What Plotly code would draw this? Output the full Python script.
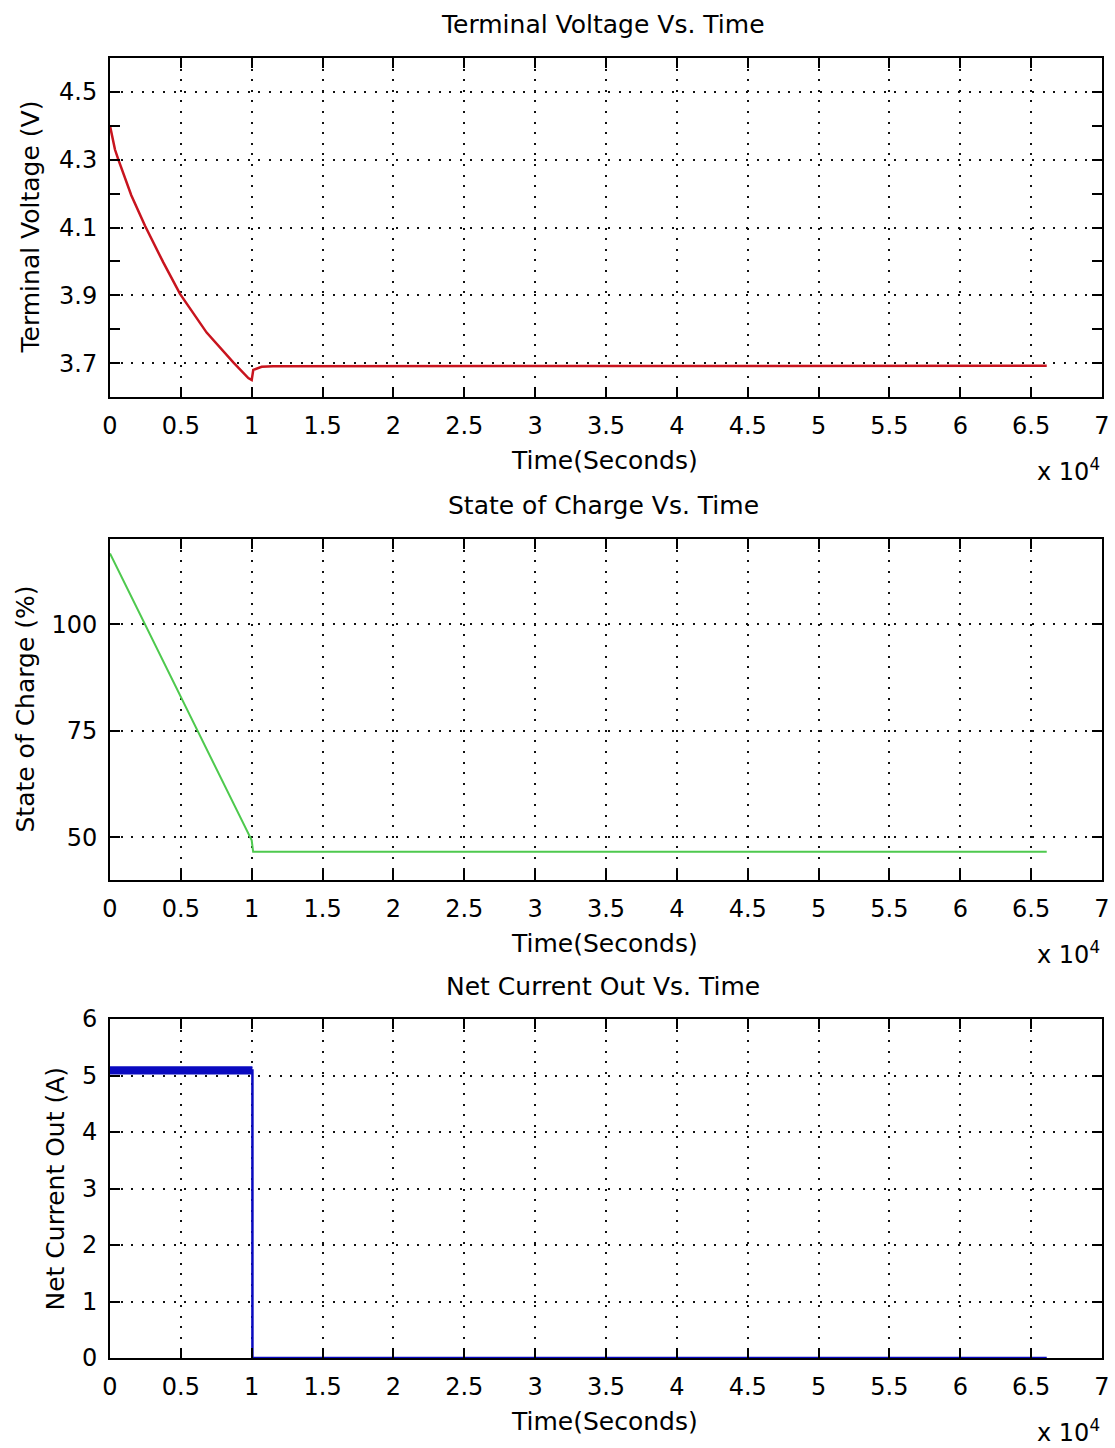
import plotly.graph_objects as go

# ---- data -------------------------------------------------------------
# terminal voltage (V) vs time (s)
volt_t = [0, 150, 350, 590, 1000, 1500, 2470, 3760, 4940, 6820, 8700,
          9760, 10000, 10110, 10700, 11500, 66100]
volt_v = [4.400, 4.370, 4.330, 4.300, 4.250, 4.195, 4.105, 3.997, 3.904,
          3.790, 3.702, 3.656, 3.650, 3.680, 3.689, 3.691, 3.692]

# state of charge (%) vs time (s)
soc_t = [0, 10000, 10100, 66100]
soc_v = [116.6, 49.3, 46.6, 46.6]

# net current out (A) vs time (s)
cur_t = [0, 10050, 10050, 66100]
cur_v = [5.09, 5.09, 0.0, 0.0]
# ripple envelope of the current while discharging
ripple_t = [0, 10050]
ripple_lo = [5.03, 5.03]
ripple_hi = [5.15, 5.15]

# axis ticks
x_ticks = [0, 5000, 10000, 15000, 20000, 25000, 30000, 35000, 40000,
           45000, 50000, 55000, 60000, 65000, 70000]
x_tick_text = ["0", "0.5", "1", "1.5", "2", "2.5", "3", "3.5", "4",
               "4.5", "5", "5.5", "6", "6.5", "7"]
volt_ticks = [3.7, 3.9, 4.1, 4.3, 4.5]
volt_minor = [3.8, 4.0, 4.2, 4.4]
soc_ticks = [50, 75, 100]
cur_ticks = [0, 1, 2, 3, 4, 5, 6]

titles = ["Terminal Voltage Vs. Time", "State of Charge Vs. Time",
          "Net Current Out Vs. Time"]
y_titles = ["Terminal Voltage (V)", "State of Charge (%)", "Net Current Out (A)"]

# ---- layout geometry (pixels) ----------------------------------------
W, H = 1115, 1448
X0, X1 = 110, 1102
panels = [(58, 397), (539, 880), (1019, 1358)]   # (top, bottom) of each axes box
FONT = "DejaVu Sans"
BLUE = "#0a0ac0"


def px(x):
    return x / W


def py(y):
    return 1 - y / H


fig = go.Figure()

fig.add_trace(go.Scatter(x=volt_t, y=volt_v, mode="lines",
                         line=dict(color="#c8141e", width=2.5),
                         xaxis="x", yaxis="y", showlegend=False))
fig.add_trace(go.Scatter(x=soc_t, y=soc_v, mode="lines",
                         line=dict(color="#4ec94e", width=2),
                         xaxis="x2", yaxis="y2", showlegend=False))
# ripple band
fig.add_trace(go.Scatter(x=ripple_t, y=ripple_lo, mode="lines",
                         line=dict(color=BLUE, width=1.5),
                         xaxis="x3", yaxis="y3", showlegend=False))
fig.add_trace(go.Scatter(x=ripple_t, y=ripple_hi, mode="lines",
                         line=dict(color=BLUE, width=1.5), fill="tonexty",
                         fillcolor=BLUE,
                         xaxis="x3", yaxis="y3", showlegend=False))
fig.add_trace(go.Scatter(x=cur_t, y=cur_v, mode="lines",
                         line=dict(color=BLUE, width=2.5),
                         xaxis="x3", yaxis="y3", showlegend=False))

common = dict(
    showline=True, linecolor="black", linewidth=2, mirror="ticks",
    ticks="inside", ticklen=10, tickwidth=1.5, tickcolor="black",
    showgrid=True, gridcolor="#111111", griddash="2px,8.6px", gridwidth=1.5,
    zeroline=False, tickfont=dict(family=FONT, size=24, color="black"),
    fixedrange=True, automargin=False, layer="above traces",
)

y_specs = [
    dict(range=[3.6, 4.6], tickmode="array", tickvals=volt_ticks,
         ticktext=[f"{v:.1f}" for v in volt_ticks],
         minor=dict(tickvals=volt_minor, ticks="inside", ticklen=10,
                    tickwidth=1.5, tickcolor="black", showgrid=False)),
    dict(range=[40, 120], tickmode="array", tickvals=soc_ticks,
         ticktext=[str(v) for v in soc_ticks]),
    dict(range=[0, 6], tickmode="array", tickvals=cur_ticks,
         ticktext=[str(v) for v in cur_ticks]),
]

layout = dict(width=W, height=H,
              margin=dict(l=0, r=0, t=0, b=0, pad=0, autoexpand=False),
              paper_bgcolor="white", plot_bgcolor="white",
              font=dict(family=FONT, size=24, color="black"))

annotations = []
for i, (top, bot) in enumerate(panels):
    sfx = "" if i == 0 else str(i + 1)
    layout["xaxis" + sfx] = dict(
        common, domain=[px(X0), px(X1)], range=[0, 70000],
        anchor="y" + sfx, tickmode="array", tickvals=x_ticks,
        ticktext=x_tick_text, ticklabelstandoff=6)
    layout["yaxis" + sfx] = dict(
        common, domain=[py(bot), py(top)], anchor="x" + sfx,
        ticklabelstandoff=6, **y_specs[i])

    mid_y = (top + bot) / 2
    # panel title
    annotations.append(dict(text=titles[i], x=px(603), y=py(top - 33),
                            xref="paper", yref="paper", showarrow=False,
                            xanchor="center", yanchor="middle",
                            font=dict(family=FONT, size=25, color="black")))
    # x-axis title
    annotations.append(dict(text="Time(Seconds)", x=px(604), y=py(bot + 63),
                            xref="paper", yref="paper", showarrow=False,
                            xanchor="center", yanchor="middle",
                            font=dict(family=FONT, size=25, color="black")))
    # exponent of the x axis
    annotations.append(dict(text="x 10<sup>4</sup>", x=px(1068), y=py(bot + 73),
                            xref="paper", yref="paper", showarrow=False,
                            xanchor="center", yanchor="middle",
                            font=dict(family=FONT, size=24, color="black")))
    # y-axis title
    y_lbl_x = [30, 25, 55][i]
    annotations.append(dict(text=y_titles[i], x=px(y_lbl_x), y=py(mid_y),
                            xref="paper", yref="paper", showarrow=False,
                            textangle=-90, xanchor="center", yanchor="middle",
                            font=dict(family=FONT, size=25, color="black")))

layout["annotations"] = annotations
fig.update_layout(**layout)

fig.write_html("out.html")
